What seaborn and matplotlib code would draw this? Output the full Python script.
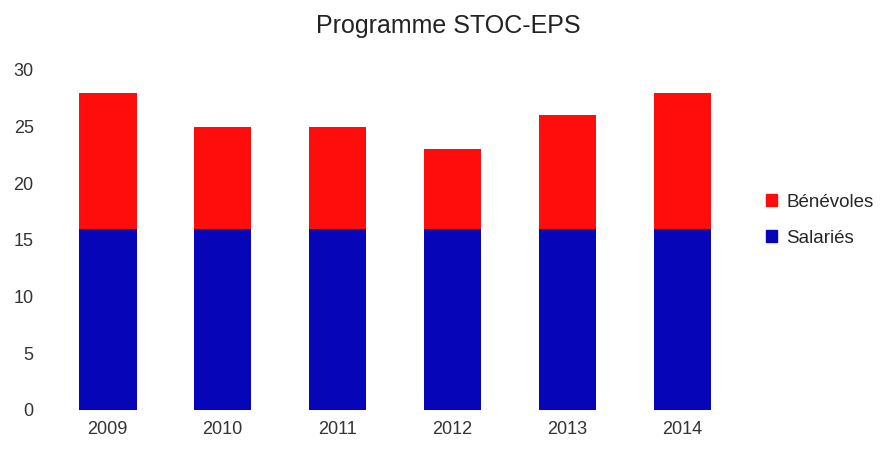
import matplotlib
matplotlib.use("Agg")
import matplotlib.pyplot as plt
import pandas as pd
import seaborn as sns
from matplotlib.patches import Patch

# Data
years = ["2009", "2010", "2011", "2012", "2013", "2014"]
salaries = [16, 16, 16, 16, 16, 16]
benevoles = [12, 9, 9, 7, 10, 12]

df = pd.DataFrame({"Année": years, "Salariés": salaries, "Bénévoles": benevoles})
df["Total"] = df["Salariés"] + df["Bénévoles"]

red = "#ff0d0d"
blue = "#0606b8"

sns.set_theme(style="white")
plt.rcParams["font.family"] = ["Liberation Sans", "DejaVu Sans"]

fig = plt.figure(figsize=(8.83, 4.54), dpi=100)
ax = fig.add_axes([0.057, 0.097, 0.781, 0.749])

# stacked bars: total in red, salaried part drawn over it in blue
sns.barplot(data=df, x="Année", y="Total", color=red, width=0.5, ax=ax,
            saturation=1, linewidth=0)
sns.barplot(data=df, x="Année", y="Salariés", color=blue, width=0.5, ax=ax,
            saturation=1, linewidth=0)

ax.set_ylim(0, 30)
ax.set_yticks(range(0, 31, 5))
ax.set_xlabel("")
ax.set_ylabel("")
ax.tick_params(axis="both", labelsize=13, colors="#333333", length=0)
ax.tick_params(axis="y", pad=12)
ax.tick_params(axis="x", pad=8)
sns.despine(ax=ax, left=True, bottom=True)

fig.text(0.508, 0.943, "Programme STOC-EPS", ha="center", va="center", fontsize=18, color="#222222")

handles = [Patch(color=red, label="Bénévoles"), Patch(color=blue, label="Salariés")]
fig.legend(handles=handles, loc="center left", bbox_to_anchor=(0.848, 0.515), frameon=False,
           fontsize=13.5, handlelength=0.6, handleheight=0.6, handletextpad=0.5, labelspacing=1.0)

fig.savefig("out.png", dpi=100)
